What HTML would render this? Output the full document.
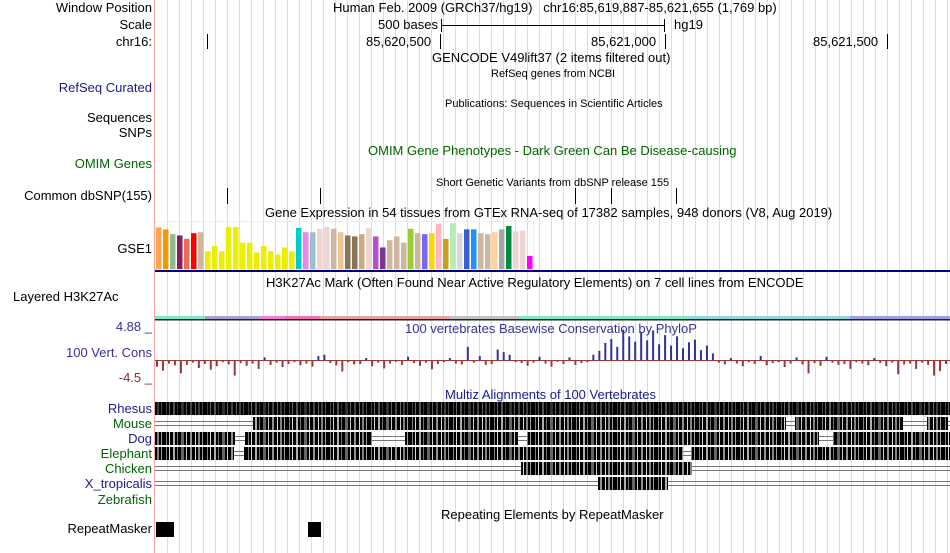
<!DOCTYPE html>
<html><head><meta charset="utf-8">
<style>
body{margin:0;background:#fff;}
#root{position:relative;width:950px;height:553px;overflow:hidden;font-family:"Liberation Sans",sans-serif;font-size:13px;color:#000;}
.t{position:absolute;white-space:nowrap;line-height:14px;}
.l{position:absolute;right:798px;white-space:nowrap;line-height:14px;text-align:right;}
.s{font-size:11px;}
svg{position:absolute;left:0;top:0;}
</style></head><body>
<div id="root">
<svg id="g" width="950" height="553"></svg>

<div class="l" style="top:1px">Window Position</div>
<div class="l" style="top:18px">Scale</div>
<div class="l" style="top:35px">chr16:</div>
<div class="l" style="top:81px;color:#1a1a8c">RefSeq Curated</div>
<div class="l" style="top:111px">Sequences</div>
<div class="l" style="top:126px">SNPs</div>
<div class="l" style="top:157px;color:#006400">OMIM Genes</div>
<div class="l" style="top:189px">Common dbSNP(155)</div>
<div class="l" style="top:242px">GSE1</div>
<div class="t" style="left:13px;top:290px">Layered H3K27Ac</div>
<div class="l" style="top:320px;color:#333399">4.88 _</div>
<div class="l" style="top:346px;color:#333399">100 Vert. Cons</div>
<div class="l" style="top:371px;color:#8b2a2a">-4.5 _</div>
<div class="l" style="top:402px;color:#1a1a8c">Rhesus</div>
<div class="l" style="top:417px;color:#006400">Mouse</div>
<div class="l" style="top:432px;color:#1a1a8c">Dog</div>
<div class="l" style="top:447px;color:#006400">Elephant</div>
<div class="l" style="top:462px;color:#006400">Chicken</div>
<div class="l" style="top:477px;color:#1a1a8c">X_tropicalis</div>
<div class="l" style="top:493px;color:#006400">Zebrafish</div>
<div class="l" style="top:522px">RepeatMasker</div>

<div class="t" style="left:333px;top:1px">Human Feb. 2009 (GRCh37/hg19)&nbsp;&nbsp;&nbsp;chr16:85,619,887-85,621,655 (1,769 bp)</div>
<div class="t" style="left:378px;top:18px">500 bases</div>
<div class="t" style="left:674px;top:18px">hg19</div>
<div class="t" style="left:366px;top:35px">85,620,500</div>
<div class="t" style="left:591px;top:35px">85,621,000</div>
<div class="t" style="left:813px;top:35px">85,621,500</div>
<div class="t" style="left:432px;top:51px">GENCODE V49lift37 (2 items filtered out)</div>
<div class="t s" style="left:491px;top:67px">RefSeq genes from NCBI</div>
<div class="t s" style="left:445px;top:97px">Publications: Sequences in Scientific Articles</div>
<div class="t" style="left:368px;top:144px;color:#006400">OMIM Gene Phenotypes - Dark Green Can Be Disease-causing</div>
<div class="t s" style="left:436px;top:176px">Short Genetic Variants from dbSNP release 155</div>
<div class="t" style="left:265px;top:206px">Gene Expression in 54 tissues from GTEx RNA-seq of 17382 samples, 948 donors (V8, Aug 2019)</div>
<div class="t" style="left:266px;top:276px">H3K27Ac Mark (Often Found Near Active Regulatory Elements) on 7 cell lines from ENCODE</div>
<div class="t" style="left:405px;top:322px;color:#333399">100 vertebrates Basewise Conservation by PhyloP</div>
<div class="t" style="left:445px;top:388px;color:#1a1a8c">Multiz Alignments of 100 Vertebrates</div>
<div class="t" style="left:441px;top:508px">Repeating Elements by RepeatMasker</div>
</div>
<script>
const gtexValues=[43.7,41.7,36.7,35.3,31.7,37.7,38.7,18.7,24.3,18.7,44.3,44.3,27.7,27.7,17.3,24.3,18.7,15.3,22.7,18.7,43.3,38.7,38.7,42.3,44.3,42.3,38.7,35.3,34.3,36.7,43.3,34.3,22.7,30.3,34.3,27.7,42.3,37.7,36.7,37.7,47.7,31.7,48.3,37.7,41.7,41.7,37.7,36.7,38.7,41.7,45.3,39.7,40.3,13.7];
const gtexColors=["#FFA54F","#EE9A00","#8FBC8F","#8B1C62","#EE6A50","#FF0000","#CDB79E","#EEEE00","#EEEE00","#EEEE00","#EEEE00","#EEEE00","#EEEE00","#EEEE00","#EEEE00","#EEEE00","#EEEE00","#EEEE00","#EEEE00","#EEEE00","#00CDCD","#EE82EE","#9AC0CD","#EED5D2","#EED5D2","#CDB79E","#EEC591","#8B7355","#8B7355","#CDAA7D","#EED5D2","#B452CD","#7A378B","#CDB79E","#CDB79E","#CDB79E","#9ACD32","#CDB79E","#7A67EE","#FFD700","#FFB6C1","#CD9B1D","#B4EEB4","#D9D9D9","#3A5FCD","#1E90FF","#CDB79E","#CDB79E","#FFD39B","#A6A6A6","#008B45","#EED5D2","#EED5D2","#FF00FF"];
const consValues=[-1.5,-2.4,-0.8,-1.2,-3.0,-1.1,-0.6,-1.8,-0.9,-2.2,-1.4,-0.5,-1.0,-3.5,-0.7,-1.3,-0.8,-2.0,0.4,-1.1,-0.6,-1.6,-0.9,-0.5,-1.2,
-0.8,-1.5,0.6,0.8,-0.7,-1.2,-2.6,-0.5,-1.0,-0.9,0.3,-1.4,-0.6,-1.9,-0.8,-0.4,-1.1,0.5,-0.7,-1.3,-0.6,-2.1,-0.9,-0.5,
0.3,-0.8,-1.0,2.0,-0.6,0.6,-1.1,-0.9,1.6,1.2,0.8,-0.5,-0.7,-1.3,-0.6,0.5,-0.8,-1.5,-0.4,-0.9,0.4,-1.1,-0.7,-0.5,
0.8,1.4,2.6,3.2,2.0,4.6,3.6,2.8,4.2,3.0,4.5,2.4,3.8,2.2,3.6,1.8,2.7,3.1,1.5,2.2,1.0,
-0.6,-1.0,0.3,-0.8,-1.4,-0.5,-0.9,0.6,-1.2,-0.7,-0.5,-1.6,-0.8,0.4,-1.0,-3.0,-0.7,-1.3,0.5,-0.6,-1.1,-0.9,-2.0,-0.5,-0.8,-1.2,0.3,-0.7,-1.4,-0.6,-3.2,-1.0,-0.8,-2.0,-0.6,-1.1,-3.5,-2.5,-0.9];
const species=["rhesus","mouse","dog","elephant","chicken","xtropicalis"];
const alignBlocks=[[[155,950]],[[253,786],[795,903],[927,948]],[[155,235],[245,372],[405,518],[527,819],[833,950]],[[155,234],[244,683],[691,950]],[[521,692]],[[598,668]]];
const dbsnpTicks=[227,320,575,611,676];

const NS="http://www.w3.org/2000/svg";
const svg=document.getElementById('g');
function mk(tag,attrs,parent){const e=document.createElementNS(NS,tag);for(const k in attrs)e.setAttribute(k,attrs[k]);(parent||svg).appendChild(e);return e;}
const defs=mk('defs',{});
const pat=mk('pattern',{id:'stripe',width:41,height:20,patternUnits:'userSpaceOnUse'},defs);
[[2,1,'#999'],[5,1,'#fff'],[9,2,'#ccc'],[13,1,'#888'],[17,3,'#777'],[22,1,'#eee'],[26,2,'#aaa'],[31,1,'#fff'],[34,2,'#999'],[38,1,'#bbb']].forEach(s=>mk('rect',{x:s[0],y:0,width:s[1],height:20,fill:s[2]},pat));

// grid
for(let x=167;x<950;x+=12){const gl=mk('line',{x1:x+0.5,y1:0,x2:x+0.5,y2:553,stroke:'#dcd8f0','stroke-width':1});

}
const pink=mk('line',{x1:154.5,y1:0,x2:154.5,y2:553,stroke:'#f4a8a8'});



// scale bar
mk('line',{x1:441,y1:25.5,x2:664,y2:25.5,stroke:'#000'});
mk('line',{x1:441.5,y1:19,x2:441.5,y2:32,stroke:'#000'});
mk('line',{x1:664.5,y1:19,x2:664.5,y2:32,stroke:'#000'});
[207,440,665,887].forEach(x=>{const t=mk('line',{x1:x+0.5,y1:34,x2:x+0.5,y2:49,stroke:'#000'});

});
dbsnpTicks.forEach(x=>{const t=mk('line',{x1:x+0.5,y1:188,x2:x+0.5,y2:204,stroke:'#000'});

});

// GTEx
const gx=(i)=>156+i*7, gBase=269, gScale=0.95;
mk('rect',{x:155.5,y:221.5,width:378,height:48,fill:'none',stroke:'#eee'});
gtexValues.forEach((v,i)=>{const h=v*gScale;const r=mk('rect',{x:gx(i),y:gBase-h,width:5.5,height:h,fill:gtexColors[i]});

});
mk('rect',{x:155,y:270,width:795,height:2,fill:'#000080'});

// H3K27Ac
[[155,205,'#7ee8c8'],[205,260,'#aaa0d0'],[260,285,'#f080d0'],[285,320,'#f070b0'],[320,450,'#e8a0a0'],[450,520,'#c0c0c0'],[520,600,'#7ee8c8'],[600,690,'#7ee8c8'],[690,850,'#90d8e0'],[850,950,'#a0a0e0']].forEach(s=>{
const r=mk('rect',{x:s[0],y:316,width:s[1]-s[0],height:3,fill:s[2]});

});
mk('rect',{x:155,y:319,width:795,height:1.5,fill:'#222'});

// conservation
const cBase=360, cPos=32/4.88, cNeg=20/4.5;
const cPitch=795/consValues.length;
consValues.forEach((v,i)=>{const x=156+i*cPitch;let r;
if(v>=0){r=mk('rect',{x:x,y:cBase-v*cPos,width:2,height:v*cPos,fill:'#333399'});}
else{r=mk('rect',{x:x,y:cBase,width:2,height:-v*cNeg,fill:'#993a3a'});}

});
mk('line',{x1:155,y1:cBase+0.5,x2:950,y2:cBase+0.5,stroke:'#993a3a'});

// multiz
species.forEach((sp,k)=>{const y=402+k*15;
if(k>0){mk('line',{x1:155,y1:y+4.5,x2:950,y2:y+4.5,stroke:'#777'});mk('line',{x1:155,y1:y+8.5,x2:950,y2:y+8.5,stroke:'#777'});}
alignBlocks[k].forEach(b=>{const r=mk('rect',{x:b[0],y:y,width:b[1]-b[0],height:13,fill:'#000'});


mk('rect',{x:b[0],y:y,width:b[1]-b[0],height:13,fill:'url(#stripe)',opacity:k==0?0.4:0.85});});});

// repeatmasker
[[156,174],[308,321]].forEach(b=>{const r=mk('rect',{x:b[0],y:522,width:b[1]-b[0],height:15,fill:'#000'});

});
</script>
</body></html>
